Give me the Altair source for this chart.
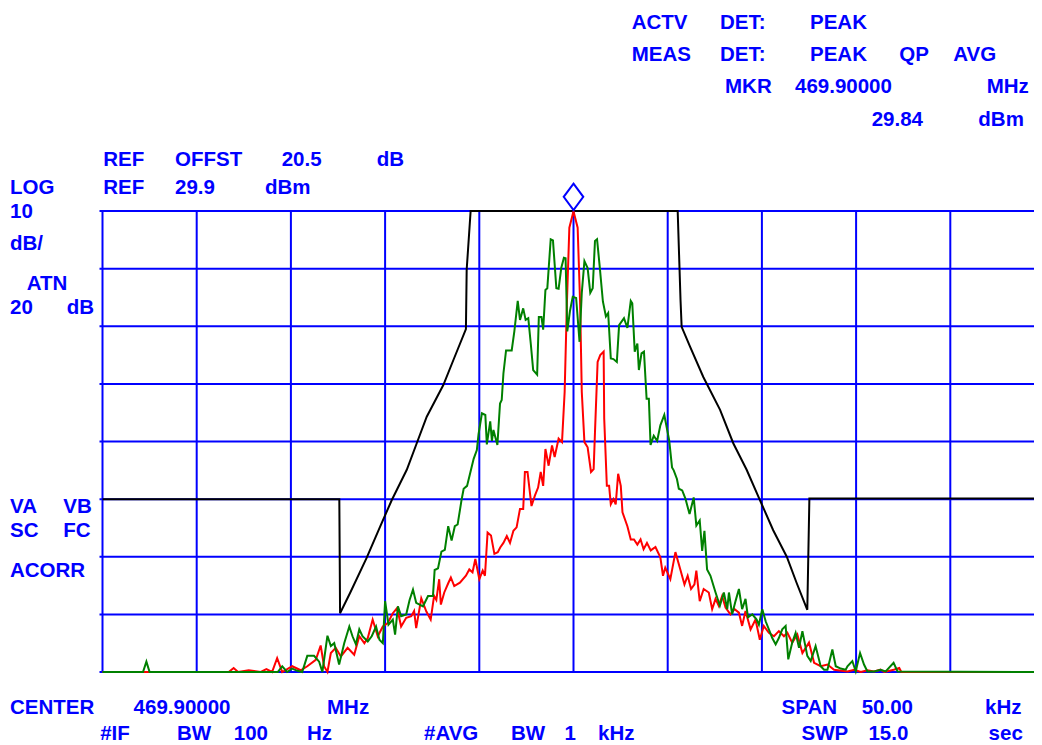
import altair as alt
import pandas as pd

# ---------------- data (frequency offset from 469.90000 MHz in kHz, level in dBm) ----------------
x_grid_khz = [-25, -20, -15, -10, -5, 0, 5, 10, 15, 20]
y_grid_dbm = [-50.1, -40.1, -30.1, -20.1, -10.1, -0.1, 9.9, 19.9, 29.9]

black_trace = [
    (-25.0, -20.1), (-12.43, -20.1), (-12.39, -39.9), (-11.86, -36.4), (-10.98, -30.3),
    (-10.27, -24.9), (-9.65, -20.3), (-8.85, -15.0), (-8.32, -10.4), (-7.79, -5.8),
    (-6.91, -0.3), (-6.38, 4.0), (-5.71, 9.4), (-5.67, 19.7), (-5.46, 29.9),
    (5.53, 29.9), (5.68, 14.5), (5.74, 9.8), (6.18, 6.4), (6.89, 1.1),
    (7.78, -4.6), (8.48, -10.4), (9.19, -15.0), (9.9, -20.3), (10.6, -25.5),
    (11.32, -30.1), (11.85, -34.7), (12.41, -39.3), (12.52, -20.0), (25.0, -20.0),
]

red_trace = [
    (-25.0, -50.1), (-18.3, -50.1), (-18.04, -49.4), (-17.8, -50.1), (-17.24, -49.8), (-16.6, -50.1),
    (-16.3, -49.6), (-16.0, -50.1), (-15.73, -47.7), (-15.46, -50.1), (-14.93, -49.1), (-14.48, -49.8),
    (-14.13, -49.1), (-13.68, -48.0), (-13.42, -45.5), (-13.24, -49.1), (-13.06, -50.1), (-12.88, -46.8),
    (-12.62, -45.9), (-12.35, -47.4), (-11.99, -45.9), (-11.64, -47.1), (-11.37, -43.9), (-11.1, -45.1),
    (-10.92, -44.2), (-10.66, -41.0), (-10.39, -43.9), (-10.12, -42.2), (-9.86, -41.6), (-9.59, -39.9),
    (-9.36, -39.0), (-9.15, -42.2), (-8.88, -40.7), (-8.61, -40.4), (-8.46, -39.5), (-8.35, -42.5),
    (-8.08, -37.3), (-7.81, -39.6), (-7.58, -41.0), (-7.4, -36.9), (-7.28, -37.6), (-7.13, -34.0),
    (-7.04, -38.4), (-6.86, -36.3), (-6.65, -34.7), (-6.51, -33.7), (-6.33, -35.2), (-6.03, -34.6),
    (-5.71, -33.4), (-5.53, -32.3), (-5.36, -32.8), (-5.21, -30.5), (-5.0, -34.0), (-4.82, -32.5),
    (-4.7, -33.4), (-4.56, -25.9), (-4.38, -26.4), (-4.2, -29.6), (-4.02, -29.3), (-3.89, -28.5),
    (-3.72, -27.7), (-3.54, -26.5), (-3.37, -27.7), (-3.19, -25.6), (-3.02, -25.0), (-2.84, -21.8),
    (-2.67, -21.8), (-2.58, -15.4), (-2.44, -15.4), (-2.23, -21.3), (-2.05, -19.5), (-1.88, -18.1),
    (-1.74, -15.4), (-1.61, -17.8), (-1.49, -11.4), (-1.32, -14.3), (-1.14, -10.8), (-1.0, -12.8),
    (-0.79, -9.6), (-0.61, -10.2), (-0.47, -1.5), (-0.35, 14.0), (-0.22, 27.0), (0.0, 29.84),
    (0.22, 27.0), (0.35, 14.0), (0.44, -1.5), (0.58, -10.2), (0.75, -11.1), (0.93, -15.4),
    (1.07, -14.9), (1.14, -8.5), (1.28, 3.7), (1.42, 4.9), (1.6, 5.5), (1.63, -6.1),
    (1.77, -17.8), (1.89, -17.8), (1.98, -21.0), (2.12, -20.1), (2.24, -21.0), (2.37, -15.7),
    (2.51, -17.8), (2.6, -22.4), (2.86, -24.8), (3.04, -27.1), (3.21, -27.1), (3.39, -28.0),
    (3.56, -27.1), (3.72, -28.8), (3.9, -27.7), (4.1, -29.0), (4.35, -28.4), (4.61, -30.2),
    (4.75, -33.4), (4.87, -32.0), (5.14, -34.0), (5.41, -29.3), (5.67, -32.3), (5.89, -34.9),
    (6.06, -33.4), (6.24, -35.7), (6.42, -34.9), (6.52, -32.5), (6.7, -37.8), (6.91, -35.7),
    (7.18, -36.3), (7.36, -39.2), (7.54, -37.4), (7.71, -38.6), (7.89, -36.9), (8.07, -38.9),
    (8.33, -40.1), (8.55, -39.2), (8.78, -39.8), (8.95, -42.1), (9.13, -39.5), (9.4, -42.7),
    (9.66, -41.0), (9.89, -44.5), (10.1, -42.1), (10.37, -43.3), (10.64, -43.9), (10.9, -43.0),
    (11.17, -43.9), (11.35, -43.3), (11.61, -45.0), (11.88, -43.6), (12.15, -46.8), (12.5, -45.0),
    (12.77, -48.5), (13.12, -49.1), (13.48, -48.8), (13.83, -49.7), (14.54, -50.0), (14.9, -49.7),
    (15.25, -50.1), (15.6, -49.8), (15.96, -50.0), (16.3, -49.7), (16.5, -50.1), (17.0, -49.7),
    (17.29, -49.4), (17.4, -50.1), (25.0, -50.1),
]

green_trace = [
    (-25.0, -50.1), (-22.85, -50.1), (-22.67, -48.3), (-22.5, -50.1), (-15.7, -50.1), (-15.46, -49.1),
    (-15.2, -50.1), (-14.93, -49.5), (-14.66, -49.9), (-14.4, -50.1), (-14.13, -47.3), (-13.77, -47.3),
    (-13.5, -48.3), (-13.33, -50.1), (-13.06, -43.8), (-12.88, -45.6), (-12.7, -45.1), (-12.44, -48.8),
    (-12.17, -45.1), (-11.9, -42.2), (-11.73, -43.9), (-11.55, -45.3), (-11.37, -42.7), (-11.2, -43.9),
    (-10.92, -44.8), (-10.71, -43.9), (-10.48, -42.2), (-10.3, -44.5), (-10.12, -45.1), (-10.0, -37.8),
    (-9.82, -41.9), (-9.59, -41.0), (-9.47, -43.6), (-9.32, -38.7), (-9.15, -40.4), (-8.88, -40.1),
    (-8.7, -37.6), (-8.52, -35.8), (-8.35, -38.1), (-7.99, -38.7), (-7.72, -36.9), (-7.46, -36.9),
    (-7.37, -32.4), (-7.19, -32.1), (-7.01, -29.2), (-6.83, -28.9), (-6.65, -24.8), (-6.47, -27.3),
    (-6.3, -24.8), (-6.15, -24.5), (-5.94, -20.2), (-5.83, -18.3), (-5.65, -17.8), (-5.47, -15.4),
    (-5.3, -13.1), (-5.13, -11.6), (-5.04, -8.8), (-4.86, -5.2), (-4.68, -5.5), (-4.6, -10.6),
    (-4.42, -6.6), (-4.33, -10.0), (-4.25, -8.1), (-4.04, -10.7), (-3.9, -3.5), (-3.81, -2.9),
    (-3.72, 1.7), (-3.58, 5.7), (-3.28, 5.7), (-3.14, 9.0), (-2.96, 14.3), (-2.84, 11.0),
    (-2.67, 13.0), (-2.54, 11.0), (-2.4, 11.3), (-2.26, 6.6), (-2.14, 2.3), (-1.93, 1.5),
    (-1.84, 11.5), (-1.7, 11.5), (-1.61, 9.3), (-1.49, 16.2), (-1.39, 16.5), (-1.21, 25.0),
    (-1.09, 24.8), (-0.91, 16.5), (-0.79, 16.4), (-0.65, 20.0), (-0.51, 21.8), (-0.42, 21.7),
    (-0.33, 9.0), (-0.19, 12.5), (-0.04, 15.0), (0.14, 14.8), (0.32, 7.2), (0.44, 15.7),
    (0.58, 21.2), (0.75, 20.0), (0.89, 15.7), (1.02, 16.5), (1.14, 24.7), (1.25, 25.0),
    (1.39, 20.3), (1.56, 14.2), (1.72, 11.6), (1.84, 12.2), (1.98, 4.3), (2.12, 4.2),
    (2.3, 3.7), (2.42, 10.1), (2.68, 11.3), (2.86, 9.6), (3.04, 14.3), (3.12, 13.9),
    (3.25, 5.5), (3.39, 6.9), (3.47, 2.3), (3.61, 5.2), (3.74, 5.5), (3.88, -2.7),
    (4.0, -2.7), (4.09, -10.7), (4.26, -9.1), (4.44, -10.0), (4.61, -7.3), (4.82, -5.5),
    (5.08, -9.9), (5.23, -14.6), (5.32, -15.1), (5.49, -16.6), (5.59, -18.3), (5.77, -18.6),
    (5.94, -20.0), (6.16, -22.7), (6.38, -19.8), (6.52, -24.7), (6.7, -23.8), (6.83, -29.1),
    (6.95, -25.6), (7.09, -32.3), (7.27, -33.4), (7.54, -36.3), (7.77, -38.6), (7.98, -36.3),
    (8.16, -39.2), (8.25, -36.3), (8.42, -40.1), (8.6, -37.8), (8.78, -35.7), (8.95, -39.2),
    (9.13, -37.4), (9.26, -40.6), (9.49, -40.1), (9.72, -41.0), (9.84, -41.9), (10.02, -39.2),
    (10.2, -41.3), (10.37, -42.7), (10.55, -44.2), (10.73, -45.3), (10.9, -44.2), (11.08, -42.7),
    (11.26, -42.1), (11.4, -47.9), (11.61, -45.0), (11.79, -43.3), (11.97, -45.9), (12.15, -43.0),
    (12.41, -47.3), (12.59, -48.2), (12.85, -45.6), (13.12, -49.1), (13.3, -49.7), (13.48, -49.7),
    (13.74, -46.2), (13.92, -49.1), (14.18, -49.5), (14.45, -49.7), (14.54, -49.1), (14.8, -48.2),
    (14.98, -50.0), (15.21, -46.8), (15.42, -48.8), (15.6, -50.0), (15.96, -50.0), (16.3, -49.7),
    (16.57, -50.0), (16.99, -48.5), (17.2, -50.0), (25.0, -50.1),
]

marker_freq = [0.0]
marker_level = [29.84]

# ---------------- layout (page pixels) ----------------
PLOT_LEFT, PLOT_TOP = 102.5, 211.0
PLOT_W, PLOT_H = 931.5, 461.0          # svg must stay within the 1026px body width
PX_PER_KHZ = 18.84
X_DOMAIN = [-25, -25 + PLOT_W / PX_PER_KHZ]
Y_DOMAIN = [-50.1, 29.9]
BLUE = "#0000ff"

# annotation words: (text, left x, baseline y) in page pixels
words = [
    ("ACTV", 631.7, 29), ("DET:", 720, 29), ("PEAK", 810, 29),
    ("MEAS", 631.7, 61), ("DET:", 720, 61), ("PEAK", 810, 61), ("QP", 899.3, 61), ("AVG", 953.3, 61),
    ("MKR", 725, 93), ("469.90000", 795, 93), ("MHz", 986.7, 93),
    ("29.84", 871.7, 125.5), ("dBm", 978.3, 125.5),
    ("REF", 103.3, 165.5), ("OFFST", 175, 165.5), ("20.5", 281.7, 165.5), ("dB", 376.7, 165.5),
    ("LOG", 10, 194), ("REF", 103.3, 194), ("29.9", 175, 194), ("dBm", 265, 194),
    ("10", 10, 218),
    ("dB/", 10, 250),
    ("ATN", 26.7, 290),
    ("20", 10, 314), ("dB", 66.7, 314),
    ("VA", 10, 513), ("VB", 63.3, 513),
    ("SC", 10, 537), ("FC", 63.3, 537),
    ("ACORR", 10, 577),
    ("CENTER", 10, 714), ("469.90000", 133.6, 714), ("MHz", 327, 714),
    ("SPAN", 781.6, 714), ("50.00", 861.7, 714), ("kHz", 985, 714),
    ("#IF", 100.2, 740), ("BW", 177, 740), ("100", 233.8, 740), ("Hz", 307, 740),
    ("#AVG", 424, 740), ("BW", 511, 740), ("1", 564.5, 740), ("kHz", 598, 740),
    ("SWP", 801.6, 740), ("15.0", 868.4, 740), ("sec", 988.6, 740),
]


def trace_df(pairs):
    return pd.DataFrame({
        "freq": [p[0] for p in pairs],
        "level": [p[1] for p in pairs],
        "idx": list(range(len(pairs))),
    })


xs = alt.Scale(domain=X_DOMAIN, nice=False, zero=False)
ys = alt.Scale(domain=Y_DOMAIN, nice=False, zero=False)

# grid: vertical and horizontal rules from the division values
vgrid = alt.Chart(pd.DataFrame({"freq": x_grid_khz})).mark_rule(color=BLUE, strokeWidth=2).encode(
    x=alt.X("freq:Q", scale=xs, axis=None), y=alt.value(0), y2=alt.value(PLOT_H)
)
hgrid = alt.Chart(pd.DataFrame({"level": y_grid_dbm})).mark_rule(color=BLUE, strokeWidth=2).encode(
    y=alt.Y("level:Q", scale=ys, axis=None), x=alt.value(-3), x2=alt.value(PLOT_W)
)


def line_layer(pairs, color):
    return alt.Chart(trace_df(pairs)).mark_line(color=color, strokeWidth=2).encode(
        x=alt.X("freq:Q", scale=xs, axis=None),
        y=alt.Y("level:Q", scale=ys, axis=None),
        order="idx:Q",
    )


black = line_layer(black_trace, "#000000")
red = line_layer(red_trace, "#ff0000")
green = line_layer(green_trace, "#008000")

marker = alt.Chart(pd.DataFrame({"freq": marker_freq, "level": marker_level})).mark_point(
    shape="M0,-1L0.74,0L0,1L-0.74,0Z", size=700, filled=False, color=BLUE,
    strokeWidth=2, yOffset=-14.5, opacity=1
).encode(x=alt.X("freq:Q", scale=xs, axis=None), y=alt.Y("level:Q", scale=ys, axis=None))

words_df = pd.DataFrame({
    "text": [w[0] for w in words],
    "px": [w[1] - PLOT_LEFT for w in words],
    "py": [w[2] - PLOT_TOP for w in words],
})
labels = alt.Chart(words_df).mark_text(
    align="left", baseline="alphabetic", font="Liberation Sans", fontWeight="bold",
    fontSize=20.5, color=BLUE
).encode(x=alt.X("px:Q", scale=None, axis=None), y=alt.Y("py:Q", scale=None, axis=None), text="text:N")

chart = alt.layer(vgrid, hgrid, black, red, green, marker, labels).properties(
    width=PLOT_W, height=PLOT_H,
    padding={"left": PLOT_LEFT - 8, "top": PLOT_TOP - 8, "right": 0, "bottom": 73},
    autosize=alt.AutoSizeParams(type="none"),
    background="white",
).configure_view(stroke=None)

chart.save("out.html", embed_options={"renderer": "svg", "actions": False})
